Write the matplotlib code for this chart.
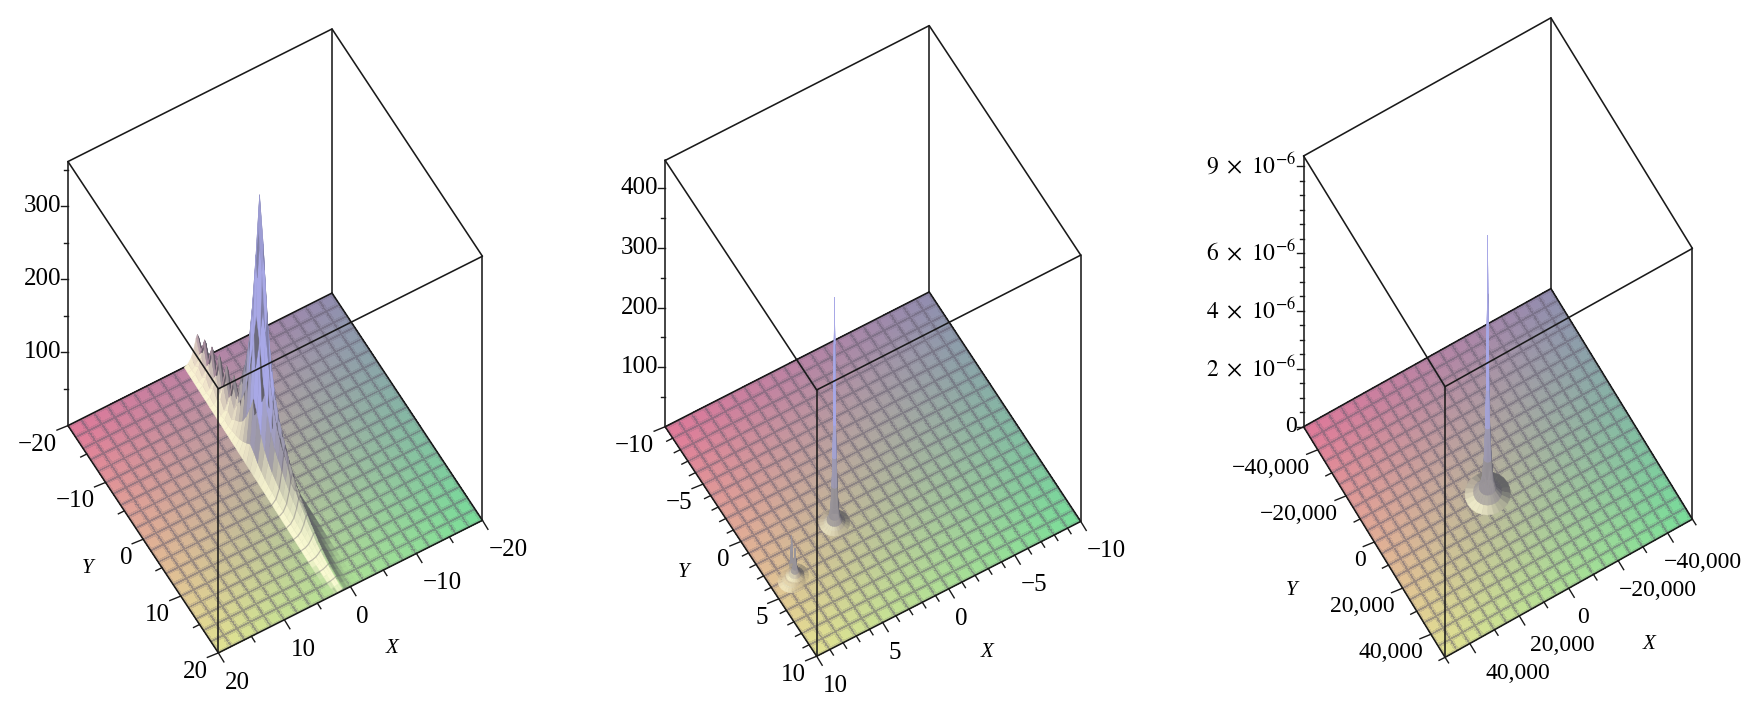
"""Three Maple style surface plots: a ridge with a peak, then two sharp spikes."""

import numpy as np
import matplotlib
matplotlib.use("Agg")
import matplotlib.pyplot as plt
from mpl_toolkits.mplot3d import proj3d

plt.rcParams["font.family"] = ["Liberation Serif", "DejaVu Serif"]
plt.rcParams["mathtext.fontset"] = "stix"

# --- panel 1: ridge along x ~ 0
ridge_y = [-20, -19, -18, -17, -16, -15, -14, -13, -12, -11, -10, -9, -8, -7, -6, -5, -4, -3, -2, -1,
           0, 1, 2, 3, 4, 5, 6, 7, 8, 9, 10, 11, 12, 13, 14, 15, 16, 17, 18, 19, 20]
ridge_x = [0.40, 0.42, 0.43, 0.45, 0.46, 0.48, 0.49, 0.51, 0.52, 0.54, 0.55, 0.57, 0.58, 0.60, 0.61, 0.63,
           0.64, 0.66, 0.67, 0.69, 0.70, 0.72, 0.73, 0.75, 0.76, 0.78, 0.79, 0.81, 0.82, 0.84, 0.85, 0.87,
           0.88, 0.90, 0.91, 0.93, 0.94, 0.96, 0.97, 0.99, 1.00]
ridge_h = [36, 20, 44, 20, 50, 20, 55, 22, 56, 24, 58, 40, 70, 95, 130, 190, 270, 360, 300, 215,
           160, 125, 100, 85, 72, 60, 50, 42, 35, 30, 25, 20, 16, 12, 9, 7, 5, 4, 3, 2, 2]
ridge_offset = [-2.0, -1.4, -0.9, -0.5, -0.2, 0.0, 0.2, 0.5, 0.9, 1.4, 2.0]
ridge_shape = [0.0, 0.07, 0.24, 0.55, 0.88, 1.0, 0.88, 0.55, 0.24, 0.07, 0.0]

# --- panel 2: a tall spike and a small double bump
spike2_x, spike2_y = 4.0, 1.9
spike2_r = [0, 0.03, 0.05, 0.08, 0.12, 0.18, 0.25, 0.35, 0.5, 0.7, 1.0]
spike2_z = [378, 300, 230, 165, 110, 62, 28, 12, 5, 2, 0]
bump2_x, bump2_y = 8.6, 4.25
bump2_r = [0, 0.05, 0.1, 0.16, 0.25, 0.4, 0.6, 0.9]
bump2_z = [75, 50, 32, 20, 11, 5, 1.5, 0]
side2_x, side2_y = 8.2, 4.0
side2_z = [45, 30, 19, 12, 7, 3, 1, 0]

# --- panel 3: one spike
spike3_x, spike3_y = 6900, 4770
spike3_r = [0, 100, 300, 500, 800, 1300, 2000, 3000, 5000, 8000]
spike3_z = [8.9e-6, 6.9e-6, 5.2e-6, 3.6e-6, 2.3e-6, 1.2e-6, 5.5e-7, 2.2e-7, 6e-8, 0]

# ticks
xy_major1 = [-20, -10, 0, 10, 20]
xy_minor1 = [-15, -5, 5, 15]
z_major1 = [100, 200, 300]
z_minor1 = [50, 150, 250, 350]
z_top1 = 361

xy_major2 = [-10, -5, 0, 5, 10]
xy_minor2 = [-9, -8, -7, -6, -4, -3, -2, -1, 1, 2, 3, 4, 6, 7, 8, 9]
z_major2 = [100, 200, 300, 400]
z_minor2 = [50, 150, 250, 350]
z_top2 = 447

xy_major3 = [-40000, -20000, 0, 20000, 40000]
xy_minor3 = [-50000, -30000, -10000, 10000, 30000, 50000]
z_major3 = [0, 2e-6, 4e-6, 6e-6, 9e-6]
z_labels3 = ["0", r"$2\ \times\ 10^{-6}$", r"$4\ \times\ 10^{-6}$", r"$6\ \times\ 10^{-6}$", r"$9\ \times\ 10^{-6}$"]
z_minor3 = [5e-7, 1e-6, 1.5e-6, 2.5e-6, 3e-6, 3.5e-6, 4.5e-6, 5e-6, 5.5e-6, 6.5e-6, 7e-6, 7.5e-6, 8e-6, 8.5e-6]
z_top3 = 9.35e-6
# the X labels of panel 3 are not spaced evenly in the reference
x_shift3 = {40000: 10, 20000: 5, 0: 2, -20000: -5, -40000: -10}

# floor colours at the four corners
PINK = (0.88, 0.47, 0.60)
YELLOW = (0.89, 0.89, 0.57)
GREEN = (0.47, 0.87, 0.60)
SLATE = (0.57, 0.55, 0.69)
GRID = (0.38, 0.35, 0.42)
LAVENDER = np.array((0.66, 0.66, 0.90))
MID = np.array((0.60, 0.58, 0.60))
DARK = np.array((0.28, 0.28, 0.32))
WHITE = np.array((1.0, 0.99, 0.84))

CELLS = 20
SUB = 8
W, H = 1747, 705


def base_colour(u, v):
    """u, v in 0..1 across x and y; bilinear mix of the corner colours."""
    u, v = u[..., None], v[..., None]
    return ((1 - u) * (1 - v) * np.array(SLATE) + u * (1 - v) * np.array(PINK)
            + u * v * np.array(YELLOW) + (1 - u) * v * np.array(GREEN))


class Panel:
    def __init__(self, fig, corners, xy_max, z_top, fs=18):
        self.corners = {k: np.array(v, float) for k, v in corners.items()}
        self.xy_max = xy_max
        self.z_top = z_top
        self.fs = fs
        c = self.corners
        # floor edge vectors on screen, x and y going towards the front corner
        self.ex = c["front"] - c["right"]
        self.ey = c["front"] - c["left"]
        height = c["front"][1] - c["fronttop"][1]

        tan_az = np.sqrt((self.ex[0] / self.ex[1]) * (self.ey[1] / self.ey[0]) * -1)
        az = np.arctan(tan_az)
        sin_el = np.sqrt((self.ey[1] / self.ey[0]) / (-self.ex[0] / self.ex[1]))
        el = np.arcsin(sin_el)
        lx = -self.ex[0] / np.sin(az)
        ly = self.ey[0] / np.cos(az)
        lz = height / np.cos(el)
        self.box = np.array([lx, ly, lz])

        self.ax = fig.add_subplot(projection="3d", computed_zorder=False)
        ax = self.ax
        ax.set_proj_type("ortho")
        ax.view_init(elev=np.degrees(el), azim=np.degrees(az))
        ax.set_box_aspect(self.box)
        ax.set_xlim(-xy_max, xy_max)
        ax.set_ylim(-xy_max, xy_max)
        ax.set_zlim(0, z_top)
        ax.set_axis_off()
        ax.patch.set_alpha(0)
        self.fit(fig)

    def floor_px(self, x, y):
        p = proj3d.proj_transform(x, y, 0, self.ax.get_proj())[:2]
        self.ax.apply_aspect()
        return self.ax.transData.transform(p)

    def fit(self, fig):
        """Scale and shift the square axes so the floor lands on its corners."""
        m = self.xy_max
        size = 600.0
        self.ax.set_position([0, 0, size / W, size / H])
        span = self.floor_px(-m, m)[0] - self.floor_px(m, -m)[0]
        want = self.corners["right"][0] - self.corners["left"][0]
        size *= want / span
        self.ax.set_position([0, 0, size / W, size / H])
        got = self.floor_px(m, m)
        fx, fy = self.corners["front"]
        self.ax.set_position([(fx - got[0]) / W, (H - fy - got[1]) / H, size / W, size / H])

    def nudge(self, px, py):
        """Floor displacement (dx, dy in data) that moves a point by px, py on screen."""
        mat = np.column_stack([self.ex, self.ey])
        return np.linalg.solve(mat, [px, py]) * 2 * self.xy_max

    def floor(self):
        n = CELLS * SUB + 1
        m = self.xy_max
        xs = np.linspace(-m, m, n)
        X, Y = np.meshgrid(xs, xs, indexing="ij")
        u = np.linspace(0, 1, n)
        U, V = np.meshgrid(u, u, indexing="ij")
        col = base_colour(U, V)

        # grid lines baked into the faces, so anything standing on the floor hides them
        idx = np.arange(n)
        w = np.zeros(n)
        w[idx % SUB == 0] = 0.52
        w[idx % SUB == 1] = 0.18
        w[idx % SUB == SUB - 1] = 0.18
        wa = np.maximum(w[:, None], w[None, :])[..., None]
        col = col * (1 - wa) + np.array(GRID) * wa
        self.ax.plot_surface(X, Y, np.zeros_like(X), facecolors=col, rstride=1, cstride=1,
                             shade=False, linewidth=0, antialiased=False, zorder=1)

    def solid(self, X, Y, Z, zorder=3, white_top=0.03, light_gain=1.6, dead=0.2):
        """Surface standing on the floor, tinted by height and by which way it faces."""
        m = self.xy_max
        P = np.stack([X / (2 * m) * self.box[0], Y / (2 * m) * self.box[1],
                      Z / self.z_top * self.box[2]], axis=-1)
        nrm = np.cross(np.gradient(P, axis=0), np.gradient(P, axis=1))
        nrm /= np.linalg.norm(nrm, axis=-1, keepdims=True) + 1e-12
        nrm *= np.sign(nrm[..., 2:3] + 1e-12)
        s = np.nan_to_num(nrm[..., 0] * 0.97 + nrm[..., 1] * 0.2)

        col = base_colour((X + m) / (2 * m), (Y + m) / (2 * m))
        rel = Z / self.z_top
        low = np.clip(rel / white_top, 0, 1)[..., None]
        high = np.clip((rel - 0.15) / 0.3, 0, 1)[..., None]
        col = col * (1 - low) + MID * low
        col = col * (1 - high) + LAVENDER * high
        light = np.clip((s - dead) * light_gain, 0, 1)[..., None] * (1 - low) * 0.95
        shade = np.clip(-s * 1.5, 0, 1)[..., None] * (0.72 - 0.3 * high)
        col = col * (1 - light) + WHITE * light
        col = col * (1 - shade) + DARK * shade
        alpha = np.clip(np.maximum((np.abs(s) - dead) * 3, low[..., 0] * 6), 0, 1)[..., None]
        rgba = np.concatenate([np.clip(col, 0, 1), alpha], axis=-1)
        self.ax.plot_surface(X, Y, Z, facecolors=rgba, rstride=1, cstride=1, shade=False,
                             linewidth=0.3, antialiased=True, zorder=zorder)

    def spike(self, cx, cy, radii, heights, zorder=3):
        th = np.linspace(0, 2 * np.pi, 25)
        r, t = np.meshgrid(np.array(radii, float), th, indexing="ij")
        z = np.array(heights, float)[:, None] * np.ones_like(t)
        self.solid(cx + r * np.cos(t), cy + r * np.sin(t), z, zorder)

    def frame(self):
        m, t = self.xy_max, self.z_top
        ax = self.ax
        kw = dict(color="#1a1a1a", lw=1.15, solid_capstyle="round")
        # back floor edges sit under the surfaces
        ax.plot([-m, m], [-m, -m], [0, 0], zorder=2, **kw)
        ax.plot([-m, -m], [-m, m], [0, 0], zorder=2, **kw)
        ax.plot([-m, -m], [-m, -m], [0, t], zorder=0, **kw)
        for xs, ys in [([m, m], [-m, m]), ([m, -m], [m, m])]:
            ax.plot(xs, ys, [0, 0], zorder=10, **kw)
        for cx, cy in [(m, -m), (m, m), (-m, m)]:
            ax.plot([cx, cx], [cy, cy], [0, t], zorder=10, **kw)
        loop_x = [m, -m, -m, m, m]
        loop_y = [-m, -m, m, m, -m]
        ax.plot(loop_x, loop_y, [t] * 5, zorder=10, **kw)

    def ticks(self, xy_major, xy_minor, z_major, z_minor, fmt, z_labels=None, x_shift=None, y_px=-11):
        m = self.xy_max
        ax = self.ax
        fs = self.fs
        kw = dict(color="#1a1a1a", lw=1.0, zorder=9)

        def seg(x, y, z, off):
            d = self.nudge(*off)
            ax.plot([x, x + d[0]], [y, y + d[1]], [z, z], **kw)

        for v in xy_major:
            seg(m, v, 0, (-11, 4.5))
            seg(v, m, 0, (5.5, 9))
            d = self.nudge(y_px, 8)
            ax.text(m + d[0], v + d[1], 0, fmt(v), ha="right", va="top", fontsize=fs, zorder=11)
            d = self.nudge(6 + (x_shift[v] if x_shift else 0), 19)
            ax.text(v + d[0], m + d[1], 0, fmt(v), ha="left", va="top", fontsize=fs, zorder=11)
        for v in xy_minor:
            seg(m, v, 0, (-6, 3))
            seg(v, m, 0, (3.5, 5.5))
        for i, v in enumerate(z_major):
            seg(m, -m, v, (-7, 0))
            d = self.nudge(-7, 0)
            text = z_labels[i] if z_labels else fmt(v)
            ax.text(m + d[0], -m + d[1], v, text, ha="right", va="center", fontsize=fs, zorder=11)
        for v in z_minor:
            seg(m, -m, v, (-4, 0))

    def axis_names(self, y_off, x_off):
        m = self.xy_max
        d = self.nudge(*y_off)
        self.ax.text(m + d[0], 0 + d[1], 0, "Y", style="italic", ha="center", va="center", fontsize=15)
        d = self.nudge(*x_off)
        self.ax.text(0 + d[0], m + d[1], 0, "X", style="italic", ha="center", va="center", fontsize=15)


def plain(v):
    return f"{v:,.0f}".replace("-", "\u2212")


def corners_from_shrunk(left, front, right, height):
    k = W / 1568
    left, front, right = np.array(left) * k, np.array(front) * k, np.array(right) * k
    return {"left": left, "front": front, "right": right,
            "fronttop": front - np.array([0, height * k])}


def main():
    fig = plt.figure(figsize=(W / 100, H / 100), dpi=100)

    # panel 1
    p = Panel(fig, corners_from_shrunk((61, 382), (196, 586), (433, 467), 237), 20, z_top1)
    p.floor()
    off = np.array(ridge_offset)
    X = np.array(ridge_x)[:, None] + off[None, :]
    Y = np.array(ridge_y, float)[:, None] * np.ones_like(off)[None, :]
    Z = np.array(ridge_h, float)[:, None] * np.array(ridge_shape)[None, :]
    p.solid(X, Y, Z, white_top=0.2, light_gain=2.2, dead=0.0)
    # grid lines over the tail only, the peak stays clean
    p.ax.plot_wireframe(X[24::2], Y[24::2], Z[24::2], rstride=1, cstride=0, color=GRID, alpha=0.35,
                        linewidth=0.9, zorder=4)
    p.frame()
    p.ticks(xy_major1, xy_minor1, z_major1, z_minor1, plain)
    p.axis_names((-56, 29), (42, 62))

    # panel 2
    p = Panel(fig, corners_from_shrunk((597, 383), (733, 589), (970, 468), 239), 10, z_top2)
    p.floor()
    p.spike(bump2_x, bump2_y, bump2_r, bump2_z)
    p.spike(side2_x, side2_y, bump2_r, side2_z, zorder=4)
    p.spike(spike2_x, spike2_y, spike2_r, spike2_z, zorder=5)
    p.frame()
    p.ticks(xy_major2, xy_minor2, z_major2, z_minor2, plain)
    p.axis_names((-57, 31), (38, 64))

    # panel 3
    p = Panel(fig, corners_from_shrunk((1170, 383), (1297, 590), (1519, 466), 243), 50000, z_top3, fs=17)
    p.floor()
    p.spike(spike3_x, spike3_y, spike3_r, spike3_z)
    p.frame()
    p.ticks(xy_major3, xy_minor3, z_major3, z_minor3, plain, z_labels3, x_shift3, y_px=-8)
    p.axis_names((-83, 48), (80, 56))

    fig.savefig("out.png", dpi=100, facecolor="white")


if __name__ == "__main__":
    main()
